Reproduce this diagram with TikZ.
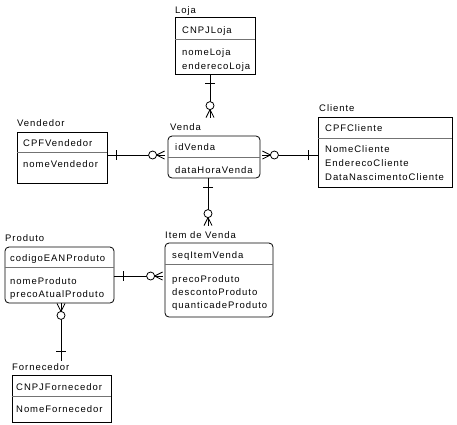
\documentclass[tikz,border=0pt]{standalone}
\usepackage{fontspec}
\setmainfont{Liberation Sans}[LetterSpace=10]
\usetikzlibrary{calc}
\newcommand\efont{\fontsize{9.5}{11}\selectfont}
\newcommand\erbar[2]{\draw[rel] ($(#1)!9pt!(#2)!5pt!90:(#2)$) -- ($(#1)!9pt!(#2)!5pt!-90:(#2)$);}
\newcommand\ercrow[2]{%
  \draw[rel] ($(#1)!4pt!90:(#2)$) -- ($(#1)!8pt!(#2)$) -- ($(#1)!4pt!-90:(#2)$);
  \draw[rel, fill=white] ($(#1)!12pt!(#2)$) circle[radius=4pt];}
\begin{document}
\begin{tikzpicture}[x=1pt,y=-1pt,
  ent/.style={draw, line width=0.8pt, inner sep=0, rectangle},
  rent/.style={ent, rounded corners=4pt},
  ttl/.style={anchor=west, inner sep=0, text height=7pt, text depth=0pt, font=\efont},
  att/.style={ttl},
  div/.style={draw=black!55, line width=0.9pt},
  rel/.style={line width=0.8pt},
]
\useasboundingbox (0,0) rectangle (457,424);

% Loja
\node[ent, minimum width=80pt, minimum height=57pt] (loja) at (215,45.5) {};
\node[ttl] (lojaT) at (175,10) {Loja};
\node[att] (lojaK) at (182,30) {CNPJLoja};
\node[att] (lojaA1) at (182,52) {nomeLoja};
\node[att] (lojaA2) at (182,66) {enderecoLoja};
\draw[div] ($(loja.north west)+(0,23)$) -- ($(loja.north east)+(0,23)$);

% Vendedor
\node[ent, minimum width=90pt, minimum height=51pt] (vendedor) at (62,157.5) {};
\node[ttl] (vendedorT) at (17,123) {Vendedor};
\node[att] (vendedorK) at (23,143) {CPFVendedor};
\node[att] (vendedorA1) at (23,164) {nomeVendedor};
\draw[div] ($(vendedor.north west)+(0,21)$) -- ($(vendedor.north east)+(0,21)$);

% Venda
\node[rent, minimum width=92pt, minimum height=42pt] (venda) at (214,157) {};
\node[ttl] (vendaT) at (170,127) {Venda};
\node[att] (vendaK) at (175,147) {idVenda};
\node[att] (vendaA1) at (175,170) {dataHoraVenda};
\draw[div] ($(venda.north west)+(0,22)$) -- ($(venda.north east)+(0,22)$);

% Cliente
\node[ent, minimum width=134pt, minimum height=70pt] (cliente) at (385,152) {};
\node[ttl] (clienteT) at (319,108) {Cliente};
\node[att] (clienteK) at (325,128) {CPFCliente};
\node[att] (clienteA1) at (325,149) {NomeCliente};
\node[att] (clienteA2) at (325,163) {EnderecoCliente};
\node[att] (clienteA3) at (325,177) {DataNascimentoCliente};
\draw[div] ($(cliente.north west)+(0,22)$) -- ($(cliente.north east)+(0,22)$);

% Produto
\node[rent, minimum width=109pt, minimum height=56pt] (produto) at (59.5,275) {};
\node[ttl] (produtoT) at (5,238) {Produto};
\node[att] (produtoK) at (10,258) {codigoEANProduto};
\node[att] (produtoA1) at (10,281) {nomeProduto};
\node[att] (produtoA2) at (10,294) {precoAtualProduto};
\draw[div] ($(produto.north west)+(0,21)$) -- ($(produto.north east)+(0,21)$);

% Item de Venda
\node[rent, minimum width=108pt, minimum height=74pt] (item) at (219,280) {};
\node[ttl] (itemT) at (165,235) {Item de Venda};
\node[att] (itemK) at (172,255) {seqItemVenda};
\node[att] (itemA1) at (172,279) {precoProduto};
\node[att] (itemA2) at (172,292) {descontoProduto};
\node[att] (itemA3) at (172,305) {quanticadeProduto};
\draw[div] ($(item.north west)+(0,22)$) -- ($(item.north east)+(0,22)$);

% Fornecedor
\node[ent, minimum width=99pt, minimum height=47pt] (fornecedor) at (61.5,398.5) {};
\node[ttl] (fornecedorT) at (12,367) {Fornecedor};
\node[att] (fornecedorK) at (16,387) {CNPJFornecedor};
\node[att] (fornecedorA1) at (16,409) {NomeFornecedor};
\draw[div] ($(fornecedor.north west)+(0,22)$) -- ($(fornecedor.north east)+(0,22)$);

% connector end points
\coordinate (c1a) at ($(loja.south)+(-5,0)$);
\coordinate (c1b) at ($(venda.north)+(-4,-18)$);
\coordinate (c2a) at ($(vendedor.east)+(0,-2.5)$);
\coordinate (c2b) at ($(venda.west)+(-3,-2)$);
\coordinate (c3a) at ($(cliente.west)+(0,3)$);
\coordinate (c3b) at ($(venda.east)+(2,-2)$);
\coordinate (c4a) at ($(venda.south)+(-6,0)$);
\coordinate (c4b) at ($(item.north)+(-11,-17)$);
\coordinate (c5a) at ($(produto.east)+(0,1)$);
\coordinate (c5b) at ($(item.west)+(-2,-4)$);
\coordinate (c6a) at ($(fornecedor.north)+(-0.5,-14)$);
\coordinate (c6b) at ($(produto.south)+(1.5,0)$);

\foreach \i in {1,...,6} {\draw[rel] (c\i a) -- (c\i b);}
\erbar{c1a}{c1b}\ercrow{c1b}{c1a}
\erbar{c2a}{c2b}\ercrow{c2b}{c2a}
\erbar{c3a}{c3b}\ercrow{c3b}{c3a}
\erbar{c4a}{c4b}\ercrow{c4b}{c4a}
\erbar{c5a}{c5b}\ercrow{c5b}{c5a}
\erbar{c6a}{c6b}\ercrow{c6b}{c6a}
\end{tikzpicture}
\end{document}
